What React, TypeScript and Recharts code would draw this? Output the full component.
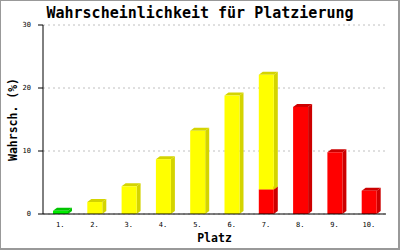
import { BarChart, Bar, XAxis, YAxis, CartesianGrid, Label } from 'recharts'

const places = ['1.', '2.', '3.', '4.', '5.', '6.', '7.', '8.', '9.', '10.']
const greenValues = [0.5, 0, 0, 0, 0, 0, 0, 0, 0, 0]
const redValues = [0, 0, 0, 0, 0, 0, 3.9, 17.0, 9.8, 3.7]
const yellowValues = [0, 1.9, 4.4, 8.7, 13.2, 18.8, 18.2, 0, 0, 0]
const yTicks = [0, 10, 20, 30]

const chartData = places.map((platz, i) => ({
  platz,
  gruen: greenValues[i],
  rot: redValues[i],
  gelb: yellowValues[i],
}))

const mono = '"DejaVu Sans Mono", monospace'

// front face + right side + top face, cheap 3D look
function makeBox(front: string, dark: string) {
  return (props: any) => {
    const { x, y, width, height } = props
    if (!height || height <= 0) return null
    const dx = 4
    const dy = 3
    const side = `${x + width},${y} ${x + width + dx},${y - dy} ${x + width + dx},${y + height - dy} ${x + width},${y + height}`
    const top = `${x},${y} ${x + dx},${y - dy} ${x + width + dx},${y - dy} ${x + width},${y}`
    return (
      <g>
        <polygon points={side} fill={dark} />
        <polygon points={top} fill={dark} />
        <rect x={x} y={y} width={width} height={height} fill={front} />
      </g>
    )
  }
}

export default function App() {
  return (
    <div
      style={{
        position: 'absolute',
        left: 0,
        top: 0,
        width: 400,
        height: 250,
        boxSizing: 'border-box',
        borderLeft: '1px solid #999',
        borderTop: '1px solid #999',
        borderRight: '2px solid #999',
        borderBottom: '2px solid #999',
        background: '#fff',
      }}
    >
      <div
        style={{
          position: 'absolute',
          left: -1,
          top: 3,
          width: 400,
          textAlign: 'center',
          fontFamily: mono,
          fontWeight: 'bold',
          fontSize: 15,
          lineHeight: '18px',
          color: '#000',
        }}
      >
        Wahrscheinlichkeit für Platzierung
      </div>
      <div style={{ position: 'absolute', left: -1, top: -1 }}>
        <BarChart
          width={400}
          height={250}
          data={chartData}
          margin={{ top: 25, right: 14, bottom: 10, left: 8 }}
          barSize={15}
        >
          <CartesianGrid vertical={false} stroke="#c0c0c0" strokeDasharray="2 3" />
          <XAxis
            dataKey="platz"
            height={26}
            tickLine={false}
            axisLine={{ stroke: '#000' }}
            tickMargin={2}
            tick={{ fill: '#000', fontSize: 7, fontFamily: mono }}
          >
            <Label
              value="Platz"
              position="insideBottom"
              offset={-2}
              style={{ fill: '#000', fontSize: 11.5, fontWeight: 'bold', fontFamily: mono }}
            />
          </XAxis>
          <YAxis
            domain={[0, 30]}
            ticks={yTicks}
            width={35}
            tickSize={5}
            tickMargin={7}
            tickLine={{ stroke: '#000' }}
            axisLine={{ stroke: '#000' }}
            tick={{ fill: '#000', fontSize: 7, fontFamily: mono }}
          >
            <Label
              value="Wahrsch. (%)"
              angle={-90}
              position="insideLeft"
              offset={5}
              style={{ textAnchor: 'middle', fill: '#000', fontSize: 11.5, fontWeight: 'bold', fontFamily: mono }}
            />
          </YAxis>
          <YAxis
            yAxisId="rechts"
            orientation="right"
            width={0}
            tick={false}
            tickLine={false}
            axisLine={{ stroke: '#000' }}
          />
          <Bar dataKey="gruen" stackId="a" shape={makeBox('#00ee00', '#00c400')} isAnimationActive={false} />
          <Bar dataKey="rot" stackId="a" shape={makeBox('#ff0000', '#cc0000')} isAnimationActive={false} />
          <Bar dataKey="gelb" stackId="a" shape={makeBox('#ffff00', '#d4d400')} isAnimationActive={false} />
        </BarChart>
      </div>
    </div>
  )
}
